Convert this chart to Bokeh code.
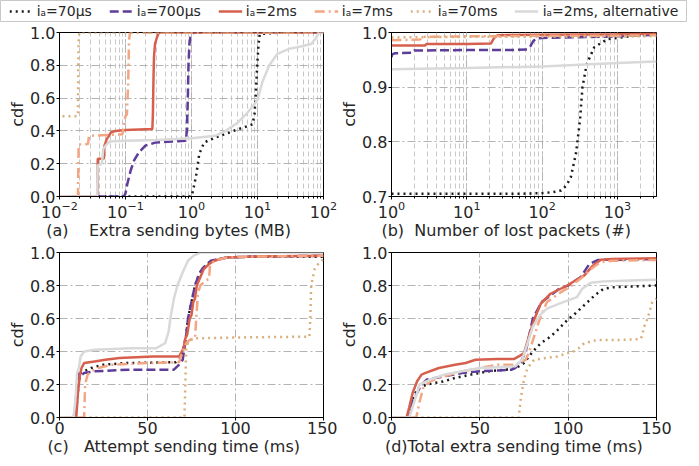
from bokeh.plotting import figure
from bokeh.models import (Range1d, Legend, LegendItem, PrintfTickFormatter, FixedTicker)
from bokeh.layouts import column, row
from bokeh.embed import file_html
from bokeh.resources import INLINE

FONT = "DejaVu Sans"
NB = "\u00a0"

# ---------------- series names ----------------
names = ["iₐ=70μs", "iₐ=700μs", "iₐ=2ms", "iₐ=7ms", "iₐ=70ms", "iₐ=2ms, alternative"]

# ---------------- (a) Extra sending bytes (MB) ----------------
a_x_70us = [0.009, 0.98, 1.03, 1.1, 1.19, 1.31, 1.56, 2.33, 4.7, 8.4, 9.0, 9.4, 9.9, 10.35, 10.8, 15, 24, 100]
a_y_70us = [0, 0, 0.02, 0.07, 0.14, 0.26, 0.33, 0.36, 0.405, 0.44, 0.5, 0.62, 0.8, 0.92, 0.99, 0.995, 1.0, 1.0]
a_x_700us = [0.009, 0.095, 0.1, 0.107, 0.12, 0.135, 0.16, 0.2, 0.29, 0.5, 0.82, 0.85, 0.88, 0.9, 0.93, 0.96, 1.0, 1.1, 100]
a_y_700us = [0, 0, 0.02, 0.08, 0.16, 0.22, 0.27, 0.31, 0.33, 0.335, 0.34, 0.4, 0.6, 0.8, 0.93, 0.97, 0.99, 1.0, 1.0]
a_x_2ms = [0.009, 0.0375, 0.038, 0.047, 0.048, 0.052, 0.056, 0.06, 0.07, 0.1, 0.2, 0.255, 0.26, 0.265, 0.27, 0.28, 0.3, 0.32, 100]
a_y_2ms = [0, 0, 0.23, 0.23, 0.31, 0.35, 0.37, 0.39, 0.40, 0.405, 0.41, 0.41, 0.5, 0.7, 0.85, 0.93, 0.97, 1.0, 1.0]
a_x_7ms = [0.009, 0.019, 0.0195, 0.027, 0.028, 0.05, 0.09, 0.095, 0.1, 0.105, 0.11, 0.113, 0.117, 100]
a_y_7ms = [0, 0, 0.317, 0.32, 0.37, 0.375, 0.38, 0.45, 0.49, 0.5, 0.7, 0.95, 1.0, 1.0]
a_x_70ms = [0.009, 0.0188, 0.019, 0.0192, 0.0195, 0.02, 100]
a_y_70ms = [0.49, 0.49, 0.5, 0.75, 0.95, 1.0, 1.0]
a_x_alt = [0.009, 0.037, 0.038, 0.044, 0.046, 0.05, 0.057, 0.1, 0.3, 1.0, 2.3, 3.3, 5, 6.65, 8.5, 10, 11.9, 15.1, 20, 30, 45, 65, 75, 86, 100]
a_y_alt = [0, 0, 0.19, 0.2, 0.29, 0.31, 0.335, 0.34, 0.345, 0.355, 0.37, 0.40, 0.45, 0.5, 0.55, 0.59, 0.70, 0.80, 0.87, 0.90, 0.915, 0.93, 0.96, 1.0, 1.0]

# ---------------- (b) Number of lost packets ----------------
b_x_70us = [1, 50, 96, 140, 178, 210, 240, 281, 318, 343, 391, 492, 740, 1660, 3300]
b_y_70us = [0.705, 0.705, 0.706, 0.708, 0.711, 0.72, 0.735, 0.778, 0.839, 0.90, 0.942, 0.973, 0.988, 0.994, 0.997]
b_x_700us = [1, 1.02, 1.1, 1.9, 2.0, 10, 40, 63, 70, 76, 83, 100, 1000, 3300]
b_y_700us = [0.955, 0.96, 0.962, 0.963, 0.967, 0.968, 0.968, 0.969, 0.975, 0.984, 0.989, 0.99, 0.993, 0.996]
b_x_2ms = [1, 2.8, 2.9, 10, 21, 23, 25.6, 100, 1000, 3300]
b_y_2ms = [0.976, 0.976, 0.979, 0.979, 0.98, 0.99, 0.995, 0.996, 0.997, 0.998]
b_x_7ms = [1, 2.4, 2.5, 10, 100, 1000, 3300]
b_y_7ms = [0.986, 0.987, 0.992, 0.993, 0.994, 0.994, 0.995]
b_x_70ms = [1, 10, 100, 1000, 3300]
b_y_70ms = [0.991, 0.992, 0.992, 0.993, 0.993]
b_x_alt = [1, 10, 100, 1000, 3300]
b_y_alt = [0.933, 0.935, 0.938, 0.944, 0.947]

# ---------------- (c) Attempt sending time (ms) ----------------
c_x_70us = [0, 9, 10, 11, 12, 14, 18, 25, 38, 66, 69, 70, 71, 72, 73, 75, 77, 79, 81, 84, 87, 95, 110, 150]
c_y_70us = [0, 0, 0.1, 0.22, 0.27, 0.28, 0.3, 0.32, 0.33, 0.335, 0.36, 0.4, 0.45, 0.5, 0.6, 0.7, 0.8, 0.86, 0.9, 0.93, 0.95, 0.97, 0.975, 0.975]
c_x_700us = [0, 8, 9, 10, 11, 12, 14, 20, 40, 65, 68, 70, 71, 72, 73, 75, 77, 79, 81, 84, 86, 95, 110, 150]
c_y_700us = [0, 0, 0.05, 0.2, 0.27, 0.25, 0.27, 0.28, 0.29, 0.29, 0.32, 0.35, 0.42, 0.5, 0.6, 0.7, 0.8, 0.86, 0.9, 0.93, 0.95, 0.97, 0.975, 0.98]
c_x_2ms = [0, 9.5, 10.5, 11.5, 12.5, 14, 20, 26, 34, 53, 68, 69.5, 70.5, 71.5, 72.5, 74, 75, 76, 77, 78, 80, 82, 85, 88, 95, 110, 150]
c_y_2ms = [0, 0, 0.15, 0.25, 0.3, 0.33, 0.34, 0.35, 0.36, 0.37, 0.37, 0.4, 0.42, 0.48, 0.5, 0.6, 0.62, 0.7, 0.72, 0.8, 0.85, 0.9, 0.93, 0.95, 0.97, 0.975, 0.98]
c_x_7ms = [0, 14, 14.5, 15, 16, 18, 22, 30, 50, 68, 70, 72, 74, 77, 78.6, 80, 83, 85, 85.5, 88, 95, 110, 150]
c_y_7ms = [0, 0, 0.18, 0.22, 0.26, 0.28, 0.3, 0.32, 0.33, 0.335, 0.4, 0.45, 0.47, 0.48, 0.75, 0.8, 0.83, 0.84, 0.92, 0.95, 0.97, 0.975, 0.98]
c_x_70ms = [0, 71, 71.5, 72, 74, 78, 100, 142, 142.5, 143, 144, 145, 147, 150]
c_y_70ms = [0, 0, 0.2, 0.43, 0.47, 0.48, 0.485, 0.49, 0.6, 0.8, 0.85, 0.9, 0.93, 0.96]
c_x_alt = [0, 8, 9, 10, 11, 12, 14, 20, 40, 55, 60, 62, 63, 65, 67, 70, 73, 76, 80, 150]
c_y_alt = [0, 0, 0.1, 0.27, 0.3, 0.37, 0.4, 0.41, 0.42, 0.42, 0.45, 0.52, 0.6, 0.72, 0.8, 0.88, 0.95, 0.98, 1.0, 1.0]

# ---------------- (d) Total extra sending time (ms) ----------------
d_x_70us = [0, 9.5, 11, 13, 15.5, 20, 25, 30, 36, 45, 55, 65, 70, 72, 75, 80, 84.5, 90, 94, 99.5, 104, 109, 115, 120, 126, 150]
d_y_70us = [0, 0, 0.08, 0.14, 0.18, 0.2, 0.21, 0.22, 0.24, 0.26, 0.28, 0.29, 0.3, 0.31, 0.33, 0.4, 0.45, 0.49, 0.53, 0.59, 0.63, 0.68, 0.74, 0.78, 0.79, 0.8]
d_x_700us = [0, 9, 12, 17, 20, 30, 40, 50, 60, 68, 70, 73, 76, 80, 85, 95, 100, 107, 112, 117, 150]
d_y_700us = [0, 0, 0.1, 0.2, 0.23, 0.25, 0.27, 0.28, 0.285, 0.29, 0.3, 0.33, 0.4, 0.6, 0.7, 0.78, 0.8, 0.85, 0.93, 0.955, 0.96]
d_x_2ms = [0, 8.5, 10, 12, 14.5, 17, 19.3, 23, 26.8, 36, 42, 47.6, 60, 69.5, 72, 75, 78, 81, 84.5, 90, 99.5, 104, 109, 114, 118.5, 125, 150]
d_y_2ms = [0, 0, 0.06, 0.15, 0.22, 0.26, 0.27, 0.285, 0.3, 0.32, 0.33, 0.35, 0.355, 0.355, 0.37, 0.39, 0.5, 0.6, 0.69, 0.75, 0.8, 0.83, 0.86, 0.92, 0.956, 0.96, 0.965]
d_x_7ms = [0, 14, 16, 18, 22, 30, 40, 50, 60, 70, 76, 78, 81, 84, 88, 96, 102, 108, 113, 118, 125, 150]
d_y_7ms = [0, 0, 0.1, 0.18, 0.22, 0.25, 0.28, 0.3, 0.32, 0.32, 0.35, 0.4, 0.5, 0.6, 0.7, 0.76, 0.8, 0.85, 0.9, 0.94, 0.95, 0.955]
d_x_70ms = [0, 72, 73, 74, 75, 77, 80.7, 87, 93.8, 103, 106, 109, 116.5, 130, 141, 142, 143, 145, 147.6, 150]
d_y_70ms = [0, 0, 0.1, 0.17, 0.23, 0.3, 0.35, 0.36, 0.37, 0.40, 0.42, 0.45, 0.47, 0.47, 0.475, 0.5, 0.55, 0.6, 0.7, 0.72]
d_x_alt = [0, 10, 13, 16, 22, 30, 40, 50, 60, 70, 74, 77, 80, 84, 88, 95, 100, 105, 108, 112.8, 120, 135, 150]
d_y_alt = [0, 0, 0.1, 0.2, 0.23, 0.26, 0.28, 0.3, 0.305, 0.31, 0.35, 0.45, 0.55, 0.62, 0.66, 0.69, 0.71, 0.73, 0.78, 0.817, 0.825, 0.83, 0.835]

# ---------------- tick labels ----------------
y_ticks_full = [0.0, 0.2, 0.4, 0.6, 0.8, 1.0]
y_ticks_b = [0.7, 0.8, 0.9, 1.0]
x_ticks_lin = [0, 50, 100, 150]

# ---------------- styles ----------------
colors = ["#1a1a1a", "#5e3c99", "#d6604d", "#f4a582", "#d9b07c", "#d9d9d9"]
dashes = ["2 4", "9 4", "solid", "10 4 2 4", "2 4", "solid"]
LW = 2.5
GRID_C = "#b3b3b3"
TXT = "#262626"


def style(p, xlabel, log_x):
    p.outline_line_color = "black"
    p.outline_line_width = 1
    p.outline_line_alpha = 1
    for ax in (p.xaxis[0], p.yaxis[0]):
        ax.axis_line_color = "black"
        ax.major_tick_line_color = "black"
        ax.minor_tick_line_color = "black"
        ax.major_tick_out = 3
        ax.major_tick_in = 0
        ax.minor_tick_out = 2
        ax.minor_tick_in = 0
        ax.major_label_text_font = FONT
        ax.major_label_text_font_size = "16px"
        ax.major_label_text_color = TXT
        ax.major_label_standoff = 1
        ax.axis_label_text_font = FONT
        ax.axis_label_text_font_size = "16px"
        ax.axis_label_text_font_style = "normal"
        ax.axis_label_text_color = TXT
        ax.axis_label_standoff = 0
    p.xaxis.axis_label = xlabel
    p.yaxis.axis_label = "cdf"
    p.yaxis.minor_tick_line_color = None
    p.yaxis.formatter = PrintfTickFormatter(format="%.1f")
    if not log_x:
        p.xaxis.minor_tick_line_color = None
    p.grid.grid_line_color = GRID_C
    p.grid.grid_line_width = 1
    p.grid.grid_line_dash = "8 3 2 3"
    if log_x:
        p.xgrid.minor_grid_line_color = "#c8c8c8"
        p.xgrid.minor_grid_line_dash = "5 3"
        p.xgrid.minor_grid_line_width = 1


def panel(xs, ys, xr, yr, log_x, yticks, xlabel, fw, fh, left, right, top):
    p = figure(frame_width=fw, frame_height=fh, x_axis_type="log" if log_x else "linear",
               x_range=Range1d(*xr), y_range=Range1d(*yr),
               output_backend="svg", toolbar_location=None,
               min_border_left=left, min_border_right=right,
               min_border_top=top, min_border_bottom=20)
    for x, y, c, d in zip(xs, ys, colors, dashes):
        p.line(x, y, line_color=c, line_width=LW, line_dash=d)
    yt = FixedTicker(ticks=yticks)
    p.yaxis.ticker = yt
    p.ygrid.ticker = yt
    if not log_x:
        xt = FixedTicker(ticks=x_ticks_lin)
        p.xaxis.ticker = xt
        p.xgrid.ticker = xt
    style(p, xlabel, log_x)
    return p


pa = panel([a_x_70us, a_x_700us, a_x_2ms, a_x_7ms, a_x_70ms, a_x_alt],
           [a_y_70us, a_y_700us, a_y_2ms, a_y_7ms, a_y_70ms, a_y_alt],
           (0.01, 100), (0, 1), True, y_ticks_full,
           "(a)" + NB * 4 + "Extra sending bytes (MB)" + NB * 9,
           264, 164, 59, 14, 10)
pb = panel([b_x_70us, b_x_700us, b_x_2ms, b_x_7ms, b_x_70ms, b_x_alt],
           [b_y_70us, b_y_700us, b_y_2ms, b_y_7ms, b_y_70ms, b_y_alt],
           (1, 3300), (0.7, 1.0), True, y_ticks_b,
           "(b)" + NB * 2 + "Number of lost packets (#)" + NB * 7,
           265, 164, 52, 33, 10)
pc = panel([c_x_70us, c_x_700us, c_x_2ms, c_x_7ms, c_x_70ms, c_x_alt],
           [c_y_70us, c_y_700us, c_y_2ms, c_y_7ms, c_y_70ms, c_y_alt],
           (0, 150), (0, 1), False, y_ticks_full,
           "(c)" + NB * 3 + "Attempt sending time (ms)" + NB * 7,
           264, 165, 59, 14, 10)
pd_ = panel([d_x_70us, d_x_700us, d_x_2ms, d_x_7ms, d_x_70ms, d_x_alt],
            [d_y_70us, d_y_700us, d_y_2ms, d_y_7ms, d_y_70ms, d_y_alt],
            (0, 150), (0, 1), False, y_ticks_full,
            "(d)" + "Total extra sending time (ms)" + NB * 4,
            265, 165, 52, 33, 10)

# ---------------- legend strip (its outline is the legend box) ----------------
pl = figure(width=687, height=22, x_range=Range1d(-2, -1), y_range=Range1d(-2, -1),
            output_backend="svg", toolbar_location=None, min_border=0)
pl.axis.visible = False
pl.grid.visible = False
pl.outline_line_color = "#c8c8c8"
pl.outline_line_width = 1
items = []
for n, c, d, x, y in zip(names, colors, dashes,
                         [a_x_70us, a_x_700us, a_x_2ms, a_x_7ms, a_x_70ms, a_x_alt],
                         [a_y_70us, a_y_700us, a_y_2ms, a_y_7ms, a_y_70ms, a_y_alt]):
    r = pl.line(x, y, line_color=c, line_width=LW, line_dash=d)
    items.append(LegendItem(label=n, renderers=[r]))
leg = Legend(items=items, orientation="horizontal", location="center",
             label_text_font=FONT, label_text_font_size="14px", label_text_color=TXT,
             glyph_width=24, glyph_height=12, label_standoff=4, spacing=17,
             padding=1, margin=0, border_line_color=None,
             background_fill_alpha=0, label_height=14)
pl.add_layout(leg, "center")

layout = column(pl, row(pa, pb), row(pc, pd_))
open("out.html", "w").write(file_html(layout, INLINE))
